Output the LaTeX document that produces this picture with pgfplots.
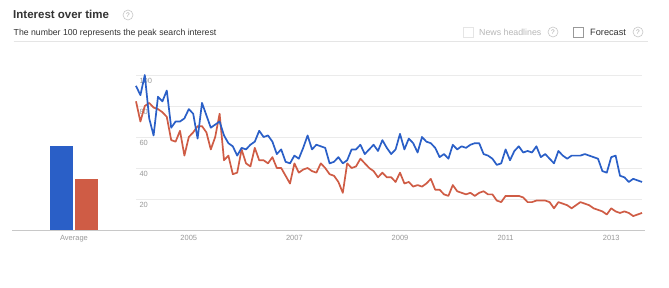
\documentclass[border=0pt]{standalone}
\usepackage{pgfplots}
\usepackage{pgfplotstable}
\pgfplotsset{compat=1.18}
\usepackage{fontspec}
\setmainfont{Liberation Sans}
\definecolor{gblue}{HTML}{2A5FC7}
\definecolor{gred}{HTML}{CF5C45}
\definecolor{gridc}{HTML}{EBEBEB}
\definecolor{basec}{HTML}{C8C8C8}
\definecolor{labc}{HTML}{999999}
\definecolor{titc}{HTML}{333333}

\pgfplotstableread{
i blue red
0 93 83
1 87 70
2 100 80
3 72 82
4 61 79
5 86 78
6 83 76
7 90 73
8 66 58
9 70 57
10 70 64
11 72 48
12 78 60
13 75 63
14 59 67
15 82 67
16 74 63
17 66 52
18 68 60
19 70 75
20 61 45
21 56 48
22 54 36
23 48 37
24 53 52
25 52 43
26 55 41
27 57 53
28 64 45
29 60 45
30 61 43
31 57 47
32 49 40
33 52 40
34 44 35
35 43 30
36 48 43
37 46 37
38 53 39
39 61 40
40 52 38
41 55 37
42 54 43
43 53 40
44 43 36
45 44 35
46 47 31
47 43 24
48 45 43
49 52 40
50 52 41
51 55 46
52 49 43
53 52 40
54 55 38
55 51 34
56 58 37
57 53 34
58 49 34
59 52 31
60 62 37
61 52 30
62 59 31
63 56 28
64 50 29
65 60 28
66 57 30
67 56 33
68 53 26
69 47 26
70 49 23
71 46 22
72 55 29
73 52 25
74 54 24
75 53 23
76 55 24
77 56 22
78 56 24
79 49 25
80 48 23
81 46 23
82 42 19
83 43 18
84 52 22
85 45 22
86 51 22
87 54 22
88 50 21
89 51 18
90 50 18
91 54 19
92 47 19
93 49 19
94 46 18
95 43 14
96 51 18
97 48 17
98 46 16
99 48 14
100 48 16
101 48 18
102 49 17
103 48 16
104 47 14
105 46 13
106 38 12
107 37 10
108 47 14
109 48 12
110 35 11
111 34 12
112 31 11
113 33 9
114 32 10
115 31 11
}\trends

\newcommand{\qmark}[2]{%
  \draw[draw=black!22, line width=0.6pt] (#1pt,#2pt) circle (5pt);
  \node[text=black!35, font=\fontsize{6.5}{7}\selectfont, inner sep=0pt] at (#1pt,#2pt) {?};
}

\begin{document}
\begin{tikzpicture}
\path[use as bounding box, fill=white] (0,0) rectangle (669pt,-287pt);

% header
\node[anchor=base west, inner sep=0pt, text=titc, font=\bfseries\fontsize{11.5}{13}\selectfont] at (13pt,-18.5pt) {Interest over time};
\qmark{128}{-15}
\node[anchor=base west, inner sep=0pt, text=titc, font=\fontsize{8.7}{10}\selectfont] at (13.5pt,-35pt) {The number 100 represents the peak search interest};
\draw[draw=black!10, line width=0.6pt] (463.5pt,-27.5pt) rectangle (473pt,-37pt);
\node[anchor=base west, inner sep=0pt, text=black!28, font=\fontsize{8.8}{10}\selectfont] at (479pt,-35pt) {News headlines};
\qmark{553}{-32}
\draw[draw=black!40, line width=0.6pt] (573pt,-27.5pt) rectangle (583pt,-37pt);
\node[anchor=base west, inner sep=0pt, text=titc, font=\fontsize{9.2}{10}\selectfont] at (590pt,-35pt) {Forecast};
\qmark{638}{-32}
\draw[draw=black!10, line width=1.5pt] (13.5pt,-41.7pt) -- (647.5pt,-41.7pt);

% baseline
\draw[draw=basec, line width=0.9pt] (12pt,-230pt) -- (645pt,-230pt);

% average bars
\begin{axis}[
  at={(12pt,-230pt)}, anchor=south west, scale only axis,
  width=124pt, height=155pt,
  xmin=12, xmax=136, ymin=0, ymax=100,
  axis line style={draw=none}, tick style={draw=none},
  ytick=\empty, xtick={74}, xticklabels={Average},
  xticklabel style={text=labc, font=\fontsize{7.5}{9}\selectfont, yshift=-2pt},
  clip=false,
]
\addplot[ybar, bar shift=0pt, bar width=23pt, fill=gblue, draw=none] coordinates {(61.5,54)};
\addplot[ybar, bar shift=0pt, bar width=23pt, fill=gred, draw=none] coordinates {(86.5,33)};
\end{axis}

% line chart
\begin{axis}[
  at={(136pt,-230pt)}, anchor=south west, scale only axis,
  width=506pt, height=155pt,
  xmin=0, xmax=115, ymin=0, ymax=100,
  axis line style={draw=none}, tick style={draw=none},
  ytick={20,40,60,80,100},
  ymajorgrids, grid style={draw=gridc, line width=0.8pt},
  yticklabel style={anchor=north west, text=labc, font=\fontsize{7.5}{9}\selectfont, xshift=0pt, yshift=0pt},
  xtick={12,36,60,84,108}, xticklabels={2005,2007,2009,2011,2013},
  xticklabel style={text=labc, font=\fontsize{7.5}{9}\selectfont, yshift=-2pt},
  /pgf/number format/assume math mode=true,
  clip=false,
]
\addplot[gred, line width=1.7pt, line join=round] table[x=i,y=red]{\trends};
\addplot[gblue, line width=1.7pt, line join=round] table[x=i,y=blue]{\trends};
\end{axis}
\end{tikzpicture}
\end{document}
